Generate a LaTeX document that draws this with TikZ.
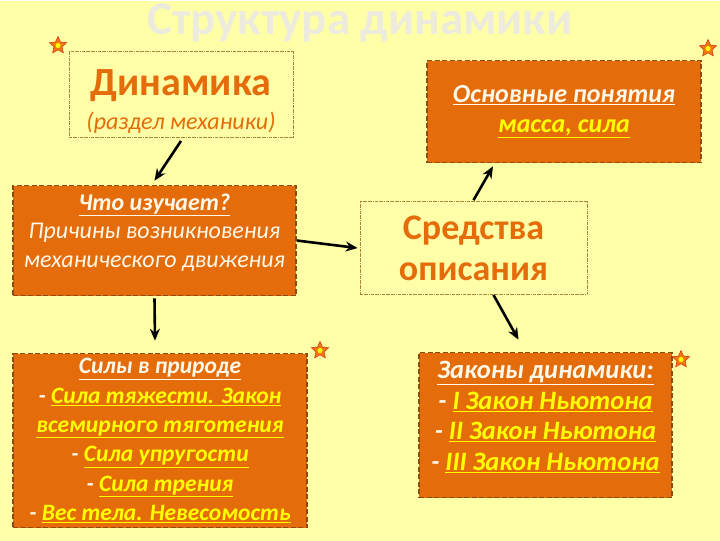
\documentclass[tikz,border=0pt]{standalone}
\usepackage{fontspec}
\setmainfont{Carlito}
\usepackage{xcolor}
\usetikzlibrary{arrows.meta,positioning,shapes.geometric}
\definecolor{Paper}{HTML}{FFFFA8}
\definecolor{Fill}{HTML}{E46C0A}
\definecolor{Edge}{HTML}{8E4A10}
\definecolor{Rim}{HTML}{A8843C}
\definecolor{Heading}{HTML}{EDEBDD}
\definecolor{Gold}{HTML}{FFFF00}
\definecolor{Cream}{HTML}{FFF8E8}
\definecolor{StarFill}{HTML}{F07A10}
\definecolor{StarEdge}{HTML}{D83A10}
\newcommand{\wu}[1]{\textcolor{Cream}{\underline{#1}}}
\newcommand{\yu}[1]{\textcolor{Gold}{\underline{#1}}}

\begin{document}
\begin{tikzpicture}[x=1pt,y=-1pt,
  plain/.style={draw=Rim,densely dash dot,line width=0.8pt,align=center,text=Fill,inner sep=0pt},
  card/.style={draw=Edge,dash pattern=on 5pt off 2.5pt,line width=1.6pt,fill=Fill,align=center,text=Cream,inner sep=0pt,font=\bfseries\itshape\fontsize{23.5}{29.3}\selectfont},
  arrow/.style={-{Stealth[length=12pt,width=10pt]},line width=2.6pt,draw=black},
  badge/.style={star,star points=5,star point ratio=2.1,fill=StarFill,draw=StarEdge,line width=0.6pt,minimum size=18pt,inner sep=0pt},
  core/.style={circle,fill=Gold,minimum size=5pt,inner sep=0pt}
]
\fill[Paper] (0,0) rectangle (720,540);

\node[font=\bfseries\fontsize{47}{47}\selectfont,text=Heading] (title) at (360,22) {Структура динамики};

\node[plain,minimum width=224pt,minimum height=86pt,font=\itshape\fontsize{24}{34}\selectfont] (dyn) at (181,94)
  {\rule{0pt}{40pt}{\upshape\bfseries\fontsize{40}{40}\selectfont Динамика}\\(раздел механики)};
\node[card,minimum width=274pt,minimum height=102pt,font=\bfseries\itshape\fontsize{26}{30}\selectfont] (basics) at (564,111)
  {\wu{Основные понятия}\\\yu{масса, сила}};
\node[card,minimum width=283pt,minimum height=110pt,font=\itshape\fontsize{24}{28.5}\selectfont] (what) at (154.5,240)
  {\wu{\bfseries Что изучает?}\\Причины возникновения\\механического движения\rule[-20pt]{0pt}{20pt}};
\node[plain,minimum width=227pt,minimum height=93pt,font=\bfseries\fontsize{36}{41}\selectfont] (means) at (473.5,247.5)
  {Средства\\описания};
\node[card,minimum width=294pt,minimum height=174pt] (forces) at (160,440)
  {\wu{Силы в природе}\\- \yu{Сила тяжести. Закон}\\\yu{всемирного тяготения}\\- \yu{Сила упругости}\\- \yu{Сила трения}\\- \yu{Вес тела. Невесомость}};
\node[card,minimum width=253pt,minimum height=145pt,font=\bfseries\itshape\fontsize{26.5}{30.5}\selectfont] (laws) at (545.5,424.5)
  {\wu{Законы динамики:}\\- \yu{I Закон Ньютона}\\- \yu{II Закон Ньютона}\\- \yu{III Закон Ньютона}\rule[-18pt]{0pt}{18pt}};

% arrows
\draw[arrow] ([yshift=-3pt]dyn.south) -- ([yshift=4pt]what.north);
\draw[arrow] ([yshift=-2pt]what.south) -- ([xshift=-5pt,yshift=12pt]forces.north);
\draw[arrow] (what.east) -- ([xshift=-2pt]means.west);
\draw[arrow] ([yshift=1pt]means.north) -- ([xshift=-71pt,yshift=-3pt]basics.south);
\draw[arrow] ([xshift=20pt]means.south) -- ([xshift=-27pt,yshift=12pt]laws.north);

% stars
\foreach \i/\p in {1/{(58,45)},2/{(708,48)},3/{(320,350)},4/{(681,359)}} {
  \node[badge] (star\i) at \p {};
  \node[core] (dot\i) at (star\i) {};
}
\end{tikzpicture}
\end{document}
